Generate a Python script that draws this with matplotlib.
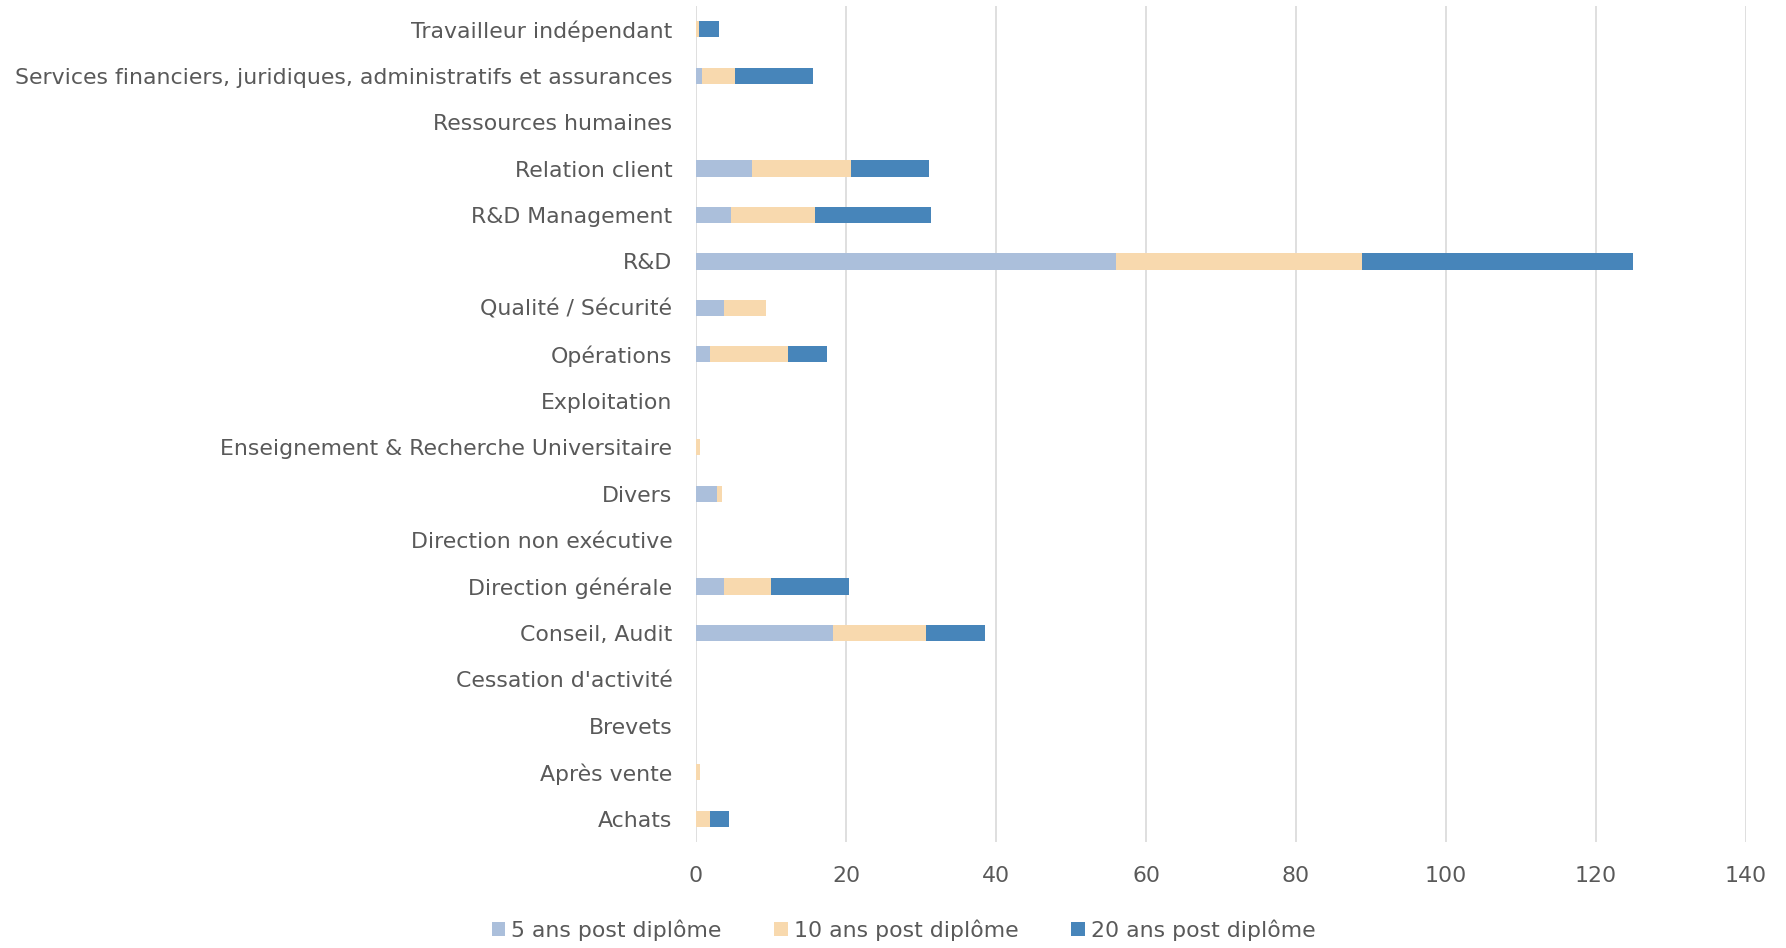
import numpy as np
import matplotlib
matplotlib.use("Agg")
import matplotlib.pyplot as plt

categories = [
    "Achats", "Après vente", "Brevets", "Cessation d'activité", "Conseil, Audit",
    "Direction générale", "Direction non exécutive", "Divers",
    "Enseignement & Recherche Universitaire", "Exploitation", "Opérations",
    "Qualité / Sécurité", "R&D", "R&D Management", "Relation client",
    "Ressources humaines",
    "Services financiers, juridiques, administratifs et assurances",
    "Travailleur indépendant",
]
ans5 = [0, 0, 0, 0, 18.2, 3.7, 0, 2.8, 0, 0, 1.8, 3.7, 56.0, 4.7, 7.5, 0, 0.8, 0]
ans10 = [1.8, 0.5, 0, 0, 12.4, 6.3, 0, 0.6, 0.5, 0, 10.5, 5.6, 32.8, 11.1, 13.2, 0, 4.4, 0.4]
ans20 = [2.6, 0, 0, 0, 7.9, 10.4, 0, 0, 0, 0, 5.1, 0, 36.1, 15.5, 10.3, 0, 10.4, 2.6]
series = ["5 ans post diplôme", "10 ans post diplôme", "20 ans post diplôme"]
colors = ["#abbfdb", "#f8d9ae", "#4785ba"]
txt = "#595959"

plt.rcParams["font.family"] = ["DejaVu Sans"]

fig = plt.figure(figsize=(17.86, 9.48), dpi=100)
ax = fig.add_axes([696 / 1786, 1 - 842 / 948, 1050 / 1786, 836 / 948])

y = np.arange(len(categories))
left = np.zeros(len(categories))
for vals, name, c in zip([ans5, ans10, ans20], series, colors):
    ax.barh(y, vals, left=left, height=0.35, color=c, label=name, linewidth=0)
    left += np.array(vals)

ax.set_xlim(0, 140)
ax.set_ylim(-0.5, len(categories) - 0.5)
ax.set_xticks(range(0, 141, 20))
ax.set_yticks(y)
ax.set_yticklabels(categories)
ax.xaxis.grid(True, color="#d9d9d9", linewidth=1.2)
ax.set_axisbelow(True)
for s in ax.spines.values():
    s.set_visible(False)
ax.tick_params(axis="both", length=0, labelsize=15.8, labelcolor=txt)
ax.tick_params(axis="y", pad=17)
ax.tick_params(axis="x", pad=17)

fig.legend(loc="center", bbox_to_anchor=(0.506, 0.019), ncol=3, frameon=False,
           fontsize=15.8, labelcolor=txt, handlelength=0.6, handleheight=0.6,
           handletextpad=0.3, columnspacing=2.4)

plt.savefig("out.png", dpi=100)
